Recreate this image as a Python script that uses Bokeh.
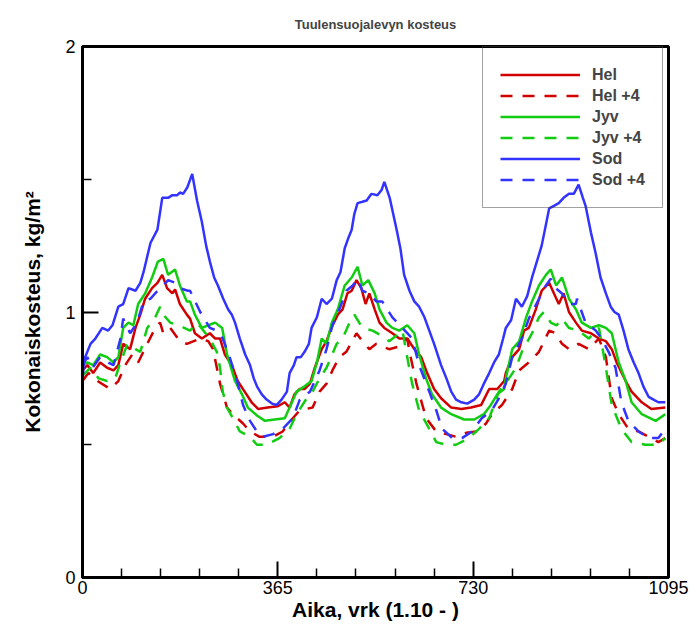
from bokeh.plotting import figure
from bokeh.models import Range1d, FixedTicker, Legend, LegendItem
from bokeh.embed import file_html
from bokeh.resources import INLINE

x_ticks = [0, 365, 730, 1095]
x_minor = [73, 146, 219, 292, 438, 511, 584, 657, 803, 876, 949, 1022]
y_ticks = [0, 1, 2]
y_minor = [0.5, 1.5]

sod_day = [0,3,15,24,37,48,56,67,76,86, 99,108,114,127,140,149,160,168,177,182,
           188,196,205,214,223,231,238,246,253,263, 272,279,285,294,304,313,320,326,335,344,
           354,363,372,382,387,395,400,408,415,423, 428,438,447,456,466,475,482,490,497,503,
           508,514,523,531,540,551,559,564,574,587, 594,601,611,620,629,639,648,657,670,680,
           689,698,708,719,732,741,750,760,769,778, 786,791,801,810,821,831,840,849,858,866,
           872,881,890,899,909,918,927,935,940,950, 959,968,978,987,994,1002,1011,1020,1030,1039,
           1048,1058,1067,1076,1089]
sod_val = [0.74,0.82,0.88,0.90,0.94,0.93,0.95,1.02,1.03,1.09, 1.08,1.11,1.15,1.26,1.31,1.43,1.43,1.44,1.44,1.45,
           1.445,1.47,1.52,1.42,1.34,1.25,1.19,1.13,1.10,1.05, 1.01,0.99,0.96,0.90,0.84,0.80,0.75,0.72,0.69,0.67,
           0.655,0.65,0.67,0.70,0.77,0.80,0.83,0.83,0.85,0.88, 0.94,0.98,1.05,1.03,1.05,1.12,1.15,1.24,1.28,1.31,
           1.37,1.41,1.415,1.42,1.445,1.44,1.46,1.49,1.43,1.31, 1.24,1.14,1.08,1.04,1.02,0.98,0.93,0.88,0.80,0.75,
           0.70,0.67,0.66,0.655,0.67,0.69,0.73,0.77,0.81,0.84, 0.90,0.94,0.97,1.05,1.02,1.06,1.13,1.19,1.25,1.33,
           1.39,1.40,1.41,1.43,1.445,1.445,1.48,1.43,1.40,1.30, 1.22,1.13,1.07,1.02,1.00,0.99,0.93,0.86,0.81,0.77,
           0.72,0.68,0.67,0.66,0.66]

hel_day = [0,9,20,33,46,58,67,76,89,99, 108,117,130,140,149,158,168,173,182,195,
           201,210,223,238,248,257,266,279,290,303, 316,328,346,365,378,387,396,406,415,425,
           434,447,456,465,477,486,495,503,512,521, 529,536,546,555,564,579,592,607,620,633,
           644,657,670,689,708,726,745,760,775,788, 791,803,816,825,834,847,858,872,881,890,
           899,909,922,933,950,965,978,989,998,1015, 1026,1045,1063,1089]
hel_val = [0.78,0.80,0.77,0.81,0.79,0.78,0.80,0.88,0.86,0.94, 0.99,1.05,1.09,1.11,1.14,1.09,1.07,1.085,1.03,0.99,
           0.975,0.92,0.90,0.92,0.90,0.90,0.84,0.80,0.74,0.70, 0.66,0.635,0.64,0.645,0.66,0.64,0.69,0.71,0.71,0.73,
           0.79,0.86,0.89,0.94,0.99,1.01,1.07,1.08,1.12,1.09, 1.03,1.07,1.01,0.96,0.94,0.92,0.90,0.90,0.86,0.83,
           0.77,0.71,0.675,0.64,0.635,0.64,0.65,0.71,0.71,0.74, 0.77,0.83,0.86,0.93,0.94,1.01,1.08,1.11,1.07,1.03,
           1.07,1.00,0.96,0.93,0.92,0.90,0.89,0.86,0.81,0.74, 0.70,0.66,0.635,0.64]

jyv_day = [0,9,20,33,46,58,67,76,86,95, 104,117,130,141,151,160,173,182,195,201,
           210,223,235,248,261,270,285,298,309,326, 341,359,378,387,400,415,428,438,447,456,
           466,477,490,503,514,523,534,546,555,568, 579,592,607,620,629,642,653,670,689,713,
           732,750,763,775,788,791,803,816,829,840, 853,866,875,885,896,909,922,933,950,965,
           978,989,1002,1015,1026,1045,1071,1089]
jyv_val = [0.80,0.81,0.80,0.84,0.83,0.81,0.83,0.94,0.96,0.95, 1.03,1.07,1.13,1.19,1.20,1.14,1.16,1.10,1.04,1.04,
           0.99,0.94,0.95,0.96,0.94,0.84,0.74,0.69,0.64,0.61, 0.59,0.595,0.60,0.64,0.70,0.72,0.74,0.81,0.90,0.88,
           0.96,1.01,1.10,1.13,1.17,1.10,1.12,1.07,1.01,0.96, 0.94,0.93,0.95,0.92,0.84,0.75,0.69,0.64,0.615,0.595,
           0.595,0.615,0.65,0.69,0.71,0.75,0.86,0.89,0.98,1.04, 1.10,1.14,1.16,1.10,1.13,1.05,1.01,0.96,0.94,0.95,
           0.94,0.92,0.81,0.74,0.66,0.615,0.59,0.615]

hel4_day = [0,11,28,52,67,80,93,104,121,136, 145,151,164,182,195,220,235,244,251,257,
            270,281,300,313,331,356,374,393,406,430, 443,456,467,480,493,512,523,536,549,573,
            592,607,611,624,642,661,680,698,717,736, 754,765,784,803,816,834,853,872,884,896,
            909,927,946,965,978,989,1002,1020,1039,1058, 1076,1089]
hel4_val = [0.74,0.77,0.74,0.71,0.74,0.80,0.84,0.81,0.88,0.94, 0.96,0.92,0.94,0.89,0.88,0.90,0.89,0.86,0.79,0.73,
            0.64,0.615,0.58,0.55,0.53,0.53,0.55,0.60,0.63,0.64, 0.70,0.73,0.78,0.83,0.85,0.92,0.89,0.86,0.88,0.86,
            0.87,0.90,0.85,0.73,0.60,0.55,0.54,0.53,0.545,0.55, 0.58,0.615,0.65,0.71,0.78,0.81,0.85,0.93,0.92,0.88,
            0.86,0.88,0.86,0.90,0.83,0.675,0.615,0.56,0.55,0.53, 0.51,0.525]

jyv4_day = [0,15,30,46,61,71,84,99,108,121, 136,145,151,164,179,201,214,238,251,257,
            262,270,281,294,313,326,344,368,387,400, 419,430,443,456,475,486,499,508,523,542,
            555,573,598,605,616,629,648,661,680,698, 722,741,760,778,797,810,821,840,853,862,
            875,886,896,909,927,946,965,978,989,1007, 1026,1052,1076,1089]
jyv4_val = [0.76,0.79,0.75,0.74,0.75,0.81,0.88,0.86,0.85,0.94, 0.98,1.02,0.99,0.96,0.95,0.93,0.96,0.90,0.85,0.79,
            0.70,0.64,0.60,0.55,0.53,0.50,0.50,0.525,0.56,0.615, 0.675,0.70,0.75,0.79,0.88,0.90,0.96,0.99,0.94,0.93,
            0.915,0.89,0.93,0.85,0.73,0.63,0.56,0.51,0.50,0.50, 0.525,0.56,0.60,0.70,0.75,0.79,0.85,0.92,0.98,1.00,
            0.96,0.95,0.975,0.94,0.93,0.90,0.94,0.79,0.65,0.56, 0.51,0.50,0.50,0.525]

sod4_day = [0,9,19,33,48,58,71,76,89,102, 114,127,140,151,160,173,182,197,201,220,
            238,251,262,275,289,300,313,326,337,356, 374,393,406,425,443,456,467,480,493,505,
            514,523,536,549,560,579,598,616,629,648, 661,672,691,709,728,746,765,778,791,803,
            821,834,853,866,875,884,896,909,922,924, 940,959,970,983,996,1007,1020,1039,1058,1076,
            1089]
sod4_val = [0.80,0.83,0.79,0.83,0.81,0.80,0.90,0.975,0.92,0.96, 1.04,1.05,1.08,1.10,1.12,1.11,1.09,1.08,1.08,1.00,
            0.94,0.93,0.90,0.83,0.74,0.65,0.59,0.55,0.53,0.54, 0.56,0.60,0.67,0.70,0.78,0.86,0.95,1.01,1.08,1.10,
            1.125,1.08,1.07,1.04,1.04,0.98,0.94,0.90,0.80,0.70, 0.63,0.56,0.525,0.525,0.55,0.60,0.63,0.675,0.73,0.83,
            0.90,0.975,1.05,1.10,1.125,1.09,1.07,1.03,1.03,1.05, 0.96,0.93,0.90,0.85,0.79,0.66,0.59,0.55,0.525,0.525,
            0.56]

series = [
    ("Hel", hel_day, hel_val, "#d00000", "solid"),
    ("Hel +4", hel4_day, hel4_val, "#d00000", "12 10"),
    ("Jyv", jyv_day, jyv_val, "#11cc11", "solid"),
    ("Jyv +4", jyv4_day, jyv4_val, "#11cc11", "12 10"),
    ("Sod", sod_day, sod_val, "#3333ff", "solid"),
    ("Sod +4", sod4_day, sod4_val, "#3333ff", "12 10"),
]

FONT = "Liberation Sans"

p = figure(width=690, height=630, output_backend="svg", toolbar_location=None,
           x_range=Range1d(0, 1095), y_range=Range1d(0, 2),
           min_border_left=82, min_border_right=22, min_border_top=44, min_border_bottom=53)

p.title.text = "Tuulensuojalevyn kosteus"
p.title.align = "center"
p.title.text_font = FONT
p.title.text_font_size = "13px"
p.title.text_font_style = "bold"
p.title.standoff = 29

p.xgrid.visible = False
p.ygrid.visible = False
p.outline_line_color = "black"
p.outline_line_width = 3
p.background_fill_color = "white"
p.border_fill_color = "white"

p.xaxis.ticker = FixedTicker(ticks=x_ticks, minor_ticks=x_minor)
p.yaxis.ticker = FixedTicker(ticks=y_ticks, minor_ticks=y_minor)
for ax in (p.xaxis, p.yaxis):
    ax.axis_line_width = 3
    ax.axis_line_color = "black"
    ax.major_tick_in = 16
    ax.major_tick_out = 0
    ax.minor_tick_in = 9
    ax.minor_tick_out = 0
    ax.major_tick_line_width = 2
    ax.minor_tick_line_width = 1.5
    ax.major_label_text_font = FONT
    ax.major_label_text_font_size = "18px"
    ax.major_label_text_color = "black"
    ax.axis_label_text_font = FONT
    ax.axis_label_text_font_style = "bold"
    ax.axis_label_text_font_size = "21px"
    ax.axis_label_text_color = "black"
p.xaxis.axis_label = "Aika, vrk (1.10 - )"
p.yaxis.axis_label = "Kokonaiskosteus, kg/m²"
p.xaxis.major_label_standoff = 3
p.xaxis.axis_label_standoff = 1
p.yaxis.major_label_standoff = 7
p.yaxis.axis_label_standoff = 18

items = []
for name, d, v, col, dash in series:
    r = p.line(d, v, line_color=col, line_width=2.5, line_dash=dash)
    items.append(LegendItem(label=name, renderers=[r]))

legend = Legend(items=items, location=(400, 369))
legend.glyph_width = 80
legend.glyph_height = 21
legend.label_height = 21
legend.spacing = 0
legend.padding = 17
legend.margin = 0
legend.label_standoff = 12
legend.label_text_font = FONT
legend.label_text_font_size = "16px"
legend.label_text_font_style = "bold"
legend.border_line_color = "#444444"
legend.border_line_width = 1.5
legend.background_fill_alpha = 0
legend.level = "underlay"
p.add_layout(legend)

open("out.html", "w").write(file_html(p, INLINE))
